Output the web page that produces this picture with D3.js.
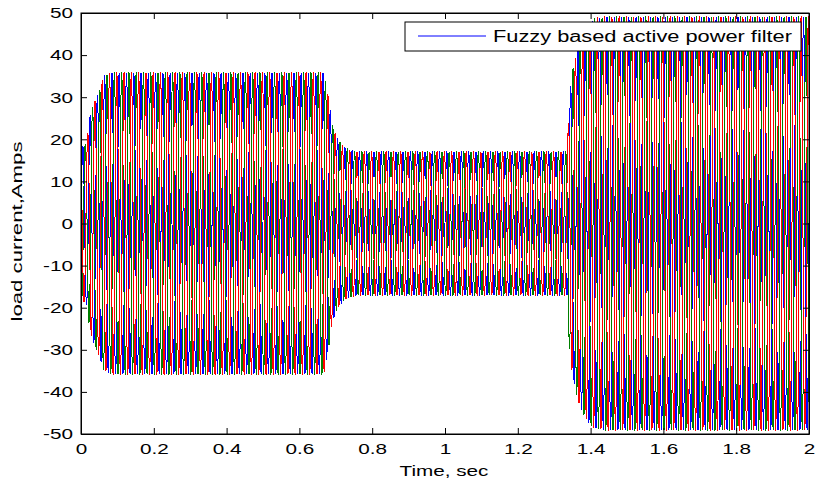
<!DOCTYPE html>
<html>
<head>
<meta charset="utf-8">
<script src="https://cdn.jsdelivr.net/npm/d3@7"></script>
<style>
  body { margin: 0; background: #fff; }
  text { font-family: Arial, "Liberation Sans", sans-serif; fill: #000; }
</style>
</head>
<body>
<div id="chart"></div>
<script>
// envelope of the three load currents
var envTime = [0, 0.015, 0.025, 0.038, 0.052, 0.06, 0.075, 0.09, 0.667, 0.673, 0.68, 0.689, 0.702, 0.72, 0.74, 0.76,
               1.336, 1.341, 1.346, 1.352, 1.36, 1.371, 1.385, 1.398, 1.417, 1.44, 2.0];
var envAmp  = [18, 19, 25.6, 29, 31.7, 34.5, 35.5, 35.8, 35.8, 33, 29.8, 23.9, 20.5, 18.2, 17.4, 17,
               17, 29, 33, 37, 40, 43.5, 46, 47.9, 48.6, 49, 49];
var freq = 50;                       // Hz
var phaseNames = ["ia", "ib", "ic"];
var phaseShift = [0, -120, 120];     // deg
var phaseColors = ["#0000ff", "#008000", "#ff0000"];
var xTicks = [0, 0.2, 0.4, 0.6, 0.8, 1, 1.2, 1.4, 1.6, 1.8, 2];
var yTicks = [-50, -40, -30, -20, -10, 0, 10, 20, 30, 40, 50];
var legendLabel = "Fuzzy based active power filter";

var W = 817, H = 481;
var m = {left: 81, top: 13, right: 8, bottom: 47};
var w = W - m.left - m.right, h = H - m.top - m.bottom;
var stretch = 1.38;   // the text in the picture is drawn wide

var svg = d3.select("#chart").append("svg")
    .attr("width", W).attr("height", H);

var x = d3.scaleLinear().domain([0, 2]).range([0, w]);
var y = d3.scaleLinear().domain([-50, 50]).range([h, 0]);
var env = d3.scaleLinear().domain(envTime).range(envAmp);

var g = svg.append("g").attr("transform", "translate(" + m.left + "," + m.top + ")");

g.append("clipPath").attr("id", "clip")
  .append("rect").attr("width", w).attr("height", h);

// samples of the simulated waveform
var dt = 0.0002;
var times = d3.range(0, 2 + dt / 2, dt);

var plot = g.append("g").attr("clip-path", "url(#clip)");
phaseNames.forEach(function(p, i) {
  var line = d3.line()
    .x(function(t) { return x(t); })
    .y(function(t) { return y(env(t) * Math.sin(2 * Math.PI * freq * t + phaseShift[i] * Math.PI / 180)); });
  plot.append("path")
    .attr("d", line(times))
    .attr("fill", "none")
    .attr("stroke", phaseColors[i])
    .attr("stroke-width", 1)
    .attr("shape-rendering", "crispEdges");
});

// axes, ticks inward on all four sides
var tl = 6;
var plain = function(d) { return String(d); };  // ascii hyphen for negatives
g.append("g").attr("transform", "translate(0," + h + ")")
  .call(d3.axisBottom(x).tickValues(xTicks).tickFormat(plain).tickSizeInner(-tl).tickSizeOuter(0).tickPadding(9));
g.append("g")
  .call(d3.axisTop(x).tickValues(xTicks).tickFormat("").tickSizeInner(-tl).tickSizeOuter(0));
g.append("g")
  .call(d3.axisLeft(y).tickValues(yTicks).tickFormat(plain).tickSizeInner(-tl).tickSizeOuter(0).tickPadding(8));
g.append("g").attr("transform", "translate(" + w + ",0)")
  .call(d3.axisRight(y).tickValues(yTicks).tickFormat("").tickSizeInner(-tl).tickSizeOuter(0));

g.selectAll(".domain").attr("stroke", "#000").attr("stroke-width", 1);
g.selectAll(".tick line").attr("stroke", "#000");
g.selectAll(".tick text").style("font-size", "15px").attr("fill", "#000");

g.append("rect").attr("width", w).attr("height", h)
  .attr("fill", "none").attr("stroke", "#000").attr("stroke-width", 1);

// axis labels
svg.append("text")
  .attr("x", m.left + w / 2 - 1).attr("y", 476)
  .attr("text-anchor", "middle")
  .style("font-size", "15px")
  .text("Time, sec");

svg.append("text").attr("class", "ylab")
  .attr("transform", "translate(22," + (m.top + h / 2 + 8) + ") rotate(-90)")
  .attr("text-anchor", "middle")
  .style("font-size", "14px")
  .text("load current,Amps");

// legend
var lg = svg.append("g").attr("transform", "translate(405,22)");
lg.append("rect").attr("width", 396).attr("height", 29)
  .attr("fill", "#fff").attr("stroke", "#000").attr("stroke-width", 1);
lg.append("line").attr("x1", 13).attr("x2", 81).attr("y1", 14).attr("y2", 14)
  .attr("stroke", phaseColors[0]).attr("stroke-width", 1);
lg.append("text").attr("class", "legtext").attr("x", 88).attr("y", 20)
  .style("font-size", "16px")
  .text(legendLabel);

// widen every label the way the picture does
svg.selectAll("text").each(function() {
  var len = this.getComputedTextLength();
  if (len > 0) d3.select(this).attr("textLength", len * stretch).attr("lengthAdjust", "spacingAndGlyphs");
});
svg.select(".legtext").attr("textLength", 299);
svg.select(".ylab").attr("textLength", 180);
</script>
</body>
</html>
